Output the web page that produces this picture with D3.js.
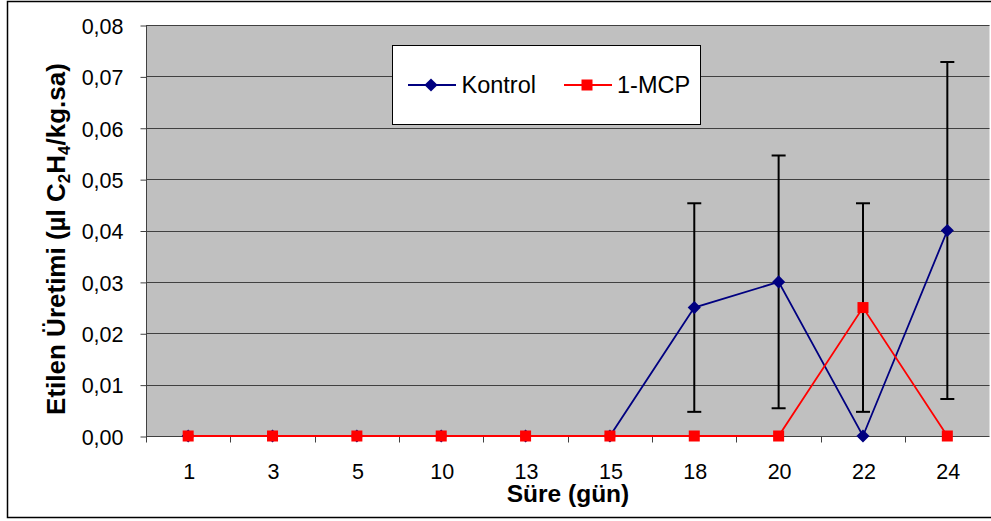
<!DOCTYPE html>
<html>
<head>
<meta charset="utf-8">
<script src="https://cdn.jsdelivr.net/npm/d3@7"></script>
<style>
  body { margin: 0; background: #fff; }
  svg { display: block; font-family: "Liberation Sans", Arial, sans-serif; }
</style>
</head>
<body>
<div id="chart"></div>
<script>
// chart data
var days = ["1", "3", "5", "10", "13", "15", "18", "20", "22", "24"];
var kontrol = [0, 0, 0, 0, 0, 0, 0.025, 0.03, 0, 0.04];
var kontrolErr = [0, 0, 0, 0, 0, 0, 0.0203, 0.0246, 0, 0.0328];
var mcp = [0, 0, 0, 0, 0, 0, 0, 0, 0.025, 0];
var mcpErr = [0, 0, 0, 0, 0, 0, 0, 0, 0.0203, 0];
var yTicks = [0, 0.01, 0.02, 0.03, 0.04, 0.05, 0.06, 0.07, 0.08];

var w = 991, h = 521;
var plotL = 146, plotR = 989.5, plotT = 25, plotB = 436;

var svg = d3.select("#chart").append("svg")
    .attr("width", w)
    .attr("height", h);

// outer frame
svg.append("rect")
    .attr("x", 7.5).attr("y", 1.5)
    .attr("width", 1000).attr("height", 516)
    .attr("fill", "#fff")
    .attr("stroke", "#000")
    .attr("stroke-width", 1.5);

var x = d3.scaleBand()
    .domain(days)
    .range([plotL, plotR]);

var y = d3.scaleLinear()
    .domain([0, 0.08])
    .range([plotB, plotT]);

// plot area
svg.append("rect")
    .attr("x", plotL).attr("y", plotT)
    .attr("width", plotR - plotL).attr("height", plotB - plotT)
    .attr("fill", "#c0c0c0");

// gridlines
svg.append("g")
    .selectAll("line")
    .data(yTicks.slice(1))
    .enter()
    .append("line")
    .attr("x1", plotL).attr("x2", plotR)
    .attr("y1", function (d) { return Math.round(y(d)) + 0.5; })
    .attr("y2", function (d) { return Math.round(y(d)) + 0.5; })
    .attr("stroke", "#404040")
    .attr("stroke-width", 1);

// y axis
var fmt = function (d) { return d3.format(".2f")(d).replace(".", ","); };
var yAxis = d3.axisLeft(y)
    .tickValues(yTicks)
    .tickFormat(fmt)
    .tickSize(6)
    .tickPadding(17);

var gy = svg.append("g")
    .attr("transform", "translate(" + (plotL + 0.5) + ",0.5)")
    .call(yAxis);
gy.selectAll("text")
    .attr("font-size", 21.5)
    .attr("fill", "#000")
    .attr("dy", "0.36em")
    .attr("font-family", "Liberation Sans, Arial, sans-serif");
gy.selectAll("line").attr("stroke", "#404040");
gy.select(".domain").attr("stroke", "#404040").attr("d", "M0," + plotB + "V" + plotT);

// x axis, ticks at band edges
var gx = svg.append("g")
    .attr("transform", "translate(0," + (plotB + 0.5) + ")");
gx.append("line")
    .attr("x1", plotL).attr("x2", plotR)
    .attr("stroke", "#404040");
gx.selectAll(".tick")
    .data(days)
    .enter()
    .append("line")
    .attr("class", "tick")
    .attr("x1", function (d) { return Math.round(x(d)) + 0.5; })
    .attr("x2", function (d) { return Math.round(x(d)) + 0.5; })
    .attr("y1", 0).attr("y2", 6)
    .attr("stroke", "#404040");
gx.selectAll("text")
    .data(days)
    .enter()
    .append("text")
    .attr("x", function (d) { return x(d) + x.bandwidth() / 2 + 1; })
    .attr("y", 42.5)
    .attr("text-anchor", "middle")
    .attr("font-size", 21.5)
    .text(function (d) { return d; });

// axis titles
svg.append("text")
    .attr("x", 568).attr("y", 502)
    .attr("text-anchor", "middle")
    .attr("font-size", 24.5)
    .attr("font-weight", "bold")
    .text("Süre (gün)");

var yt = svg.append("text")
    .attr("transform", "translate(65,239) rotate(-90)")
    .attr("text-anchor", "middle")
    .attr("font-size", 26)
    .attr("font-weight", "bold");
yt.append("tspan").text("Etilen Üretimi (µl C");
yt.append("tspan").attr("font-size", 17).attr("dy", 5).text("2");
yt.append("tspan").attr("dy", -5).text("H");
yt.append("tspan").attr("font-size", 17).attr("dy", 5).text("4");
yt.append("tspan").attr("dy", -5).text("/kg.sa)");

var cx = function (d, i) { return x(days[i]) + x.bandwidth() / 2; };

// error bars
function errorBars(vals, errs) {
    var g = svg.append("g");
    vals.forEach(function (v, i) {
        if (!errs[i]) return;
        var px = cx(v, i);
        g.append("line")
            .attr("x1", px).attr("x2", px)
            .attr("y1", y(v + errs[i])).attr("y2", y(v - errs[i]))
            .attr("stroke", "#000").attr("stroke-width", 2);
        [v + errs[i], v - errs[i]].forEach(function (e) {
            g.append("line")
                .attr("x1", px - 7).attr("x2", px + 7)
                .attr("y1", y(e)).attr("y2", y(e))
                .attr("stroke", "#000").attr("stroke-width", 2);
        });
    });
}
errorBars(kontrol, kontrolErr);
errorBars(mcp, mcpErr);

var line = d3.line()
    .x(cx)
    .y(function (d) { return y(d); });

var diamond = d3.symbol().type(d3.symbolDiamond2).size(110);

// Kontrol series
svg.append("path")
    .datum(kontrol)
    .attr("d", line)
    .attr("fill", "none")
    .attr("stroke", "#000080")
    .attr("stroke-width", 1.8);
svg.append("g").selectAll("path")
    .data(kontrol)
    .enter()
    .append("path")
    .attr("d", diamond)
    .attr("transform", function (d, i) { return "translate(" + cx(d, i) + "," + y(d) + ")"; })
    .attr("fill", "#000080");

// 1-MCP series
svg.append("path")
    .datum(mcp)
    .attr("d", line)
    .attr("fill", "none")
    .attr("stroke", "#ff0000")
    .attr("stroke-width", 1.8);
svg.append("g").selectAll("rect")
    .data(mcp)
    .enter()
    .append("rect")
    .attr("x", function (d, i) { return cx(d, i) - 5.5; })
    .attr("y", function (d) { return y(d) - 5.5; })
    .attr("width", 11).attr("height", 11)
    .attr("fill", "#ff0000");

// legend
var lg = svg.append("g");
lg.append("rect")
    .attr("x", 392.5).attr("y", 45.5)
    .attr("width", 308).attr("height", 79)
    .attr("fill", "#fff")
    .attr("stroke", "#000");
lg.append("line")
    .attr("x1", 408).attr("x2", 456).attr("y1", 85).attr("y2", 85)
    .attr("stroke", "#000080").attr("stroke-width", 1.8);
lg.append("path")
    .attr("d", diamond)
    .attr("transform", "translate(431,85)")
    .attr("fill", "#000080");
lg.append("text")
    .attr("x", 461.5).attr("y", 92.5)
    .attr("font-size", 23.5)
    .text("Kontrol");
lg.append("line")
    .attr("x1", 564).attr("x2", 612).attr("y1", 85).attr("y2", 85)
    .attr("stroke", "#ff0000").attr("stroke-width", 1.8);
lg.append("rect")
    .attr("x", 581.5).attr("y", 79.5)
    .attr("width", 11).attr("height", 11)
    .attr("fill", "#ff0000");
lg.append("text")
    .attr("x", 617).attr("y", 92.5)
    .attr("font-size", 23.5)
    .text("1-MCP");
</script>
</body>
</html>
